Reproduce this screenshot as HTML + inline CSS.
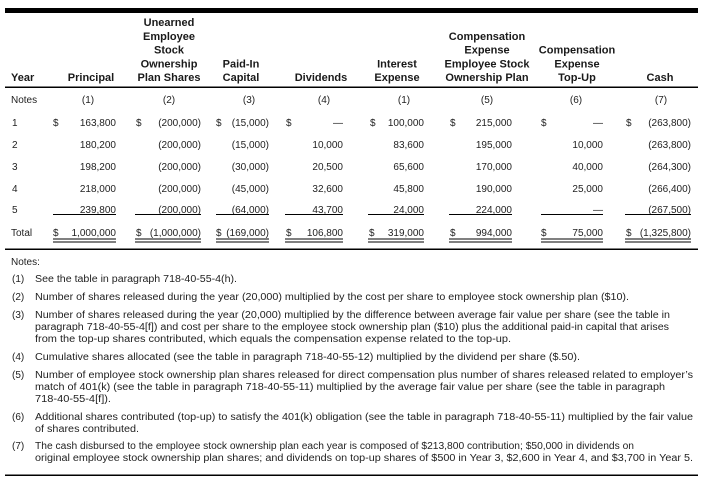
<!DOCTYPE html>
<html><head><meta charset="utf-8"><style>
html,body{margin:0;padding:0;background:#fff;}
svg{display:block;}
text{font-family:"Liberation Sans",Arial,sans-serif;fill:#222;}
.h{font-weight:bold;font-size:11px;fill:#1a1a1a;text-anchor:middle;}
.b{font-size:10px;}
.r{text-anchor:end;}
.m{text-anchor:middle;}
.n{font-size:10px;}
</style></head><body>
<svg width="701" height="491" viewBox="0 0 701 491" xmlns="http://www.w3.org/2000/svg">
<rect x="0" y="0" width="701" height="491" fill="#fff"/>
<rect x="5" y="8" width="693" height="5" fill="#000"/>
<!-- headers -->
<text class="h" x="11" y="81" style="text-anchor:start">Year</text>
<text class="h" x="91" y="81">Principal</text>
<text class="h" x="169" y="26">Unearned</text>
<text class="h" x="169" y="39.75">Employee</text>
<text class="h" x="169" y="53.5">Stock</text>
<text class="h" x="169" y="67.25">Ownership</text>
<text class="h" x="169" y="81">Plan Shares</text>
<text class="h" x="241" y="67.25">Paid-In</text>
<text class="h" x="241" y="81">Capital</text>
<text class="h" x="321" y="81">Dividends</text>
<text class="h" x="397" y="67.25">Interest</text>
<text class="h" x="397" y="81">Expense</text>
<text class="h" x="487" y="39.75">Compensation</text>
<text class="h" x="487" y="53.5">Expense</text>
<text class="h" x="487" y="67.25">Employee Stock</text>
<text class="h" x="487" y="81">Ownership Plan</text>
<text class="h" x="577" y="53.5">Compensation</text>
<text class="h" x="577" y="67.25">Expense</text>
<text class="h" x="577" y="81">Top-Up</text>
<text class="h" x="660" y="81">Cash</text>
<rect x="5" y="86.5" width="693" height="1.5" fill="#000"/>
<!-- notes row -->
<g class="b">
<text x="11" y="103">Notes</text>
<text class="m" x="88" y="103">(1)</text>
<text class="m" x="169" y="103">(2)</text>
<text class="m" x="249" y="103">(3)</text>
<text class="m" x="324" y="103">(4)</text>
<text class="m" x="404" y="103">(1)</text>
<text class="m" x="487" y="103">(5)</text>
<text class="m" x="576" y="103">(6)</text>
<text class="m" x="661" y="103">(7)</text>
</g>
<!-- rows -->
<g class="b">
<text x="12" y="126">1</text>
<text x="53" y="126">$</text><text class="r" x="116" y="126">163,800</text>
<text x="136" y="126">$</text><text class="r" x="201" y="126">(200,000)</text>
<text x="216" y="126">$</text><text class="r" x="269" y="126">(15,000)</text>
<text x="286" y="126">$</text><text class="r" x="343" y="126">—</text>
<text x="370" y="126">$</text><text class="r" x="424" y="126">100,000</text>
<text x="450" y="126">$</text><text class="r" x="512" y="126">215,000</text>
<text x="541" y="126">$</text><text class="r" x="603" y="126">—</text>
<text x="626" y="126">$</text><text class="r" x="691" y="126">(263,800)</text>

<text x="12" y="148">2</text>
<text class="r" x="116" y="148">180,200</text>
<text class="r" x="201" y="148">(200,000)</text>
<text class="r" x="269" y="148">(15,000)</text>
<text class="r" x="343" y="148">10,000</text>
<text class="r" x="424" y="148">83,600</text>
<text class="r" x="512" y="148">195,000</text>
<text class="r" x="603" y="148">10,000</text>
<text class="r" x="691" y="148">(263,800)</text>

<text x="12" y="170">3</text>
<text class="r" x="116" y="170">198,200</text>
<text class="r" x="201" y="170">(200,000)</text>
<text class="r" x="269" y="170">(30,000)</text>
<text class="r" x="343" y="170">20,500</text>
<text class="r" x="424" y="170">65,600</text>
<text class="r" x="512" y="170">170,000</text>
<text class="r" x="603" y="170">40,000</text>
<text class="r" x="691" y="170">(264,300)</text>

<text x="12" y="192">4</text>
<text class="r" x="116" y="192">218,000</text>
<text class="r" x="201" y="192">(200,000)</text>
<text class="r" x="269" y="192">(45,000)</text>
<text class="r" x="343" y="192">32,600</text>
<text class="r" x="424" y="192">45,800</text>
<text class="r" x="512" y="192">190,000</text>
<text class="r" x="603" y="192">25,000</text>
<text class="r" x="691" y="192">(266,400)</text>

<text x="12" y="213">5</text>
<text class="r" x="116" y="213">239,800</text>
<text class="r" x="201" y="213">(200,000)</text>
<text class="r" x="269" y="213">(64,000)</text>
<text class="r" x="343" y="213">43,700</text>
<text class="r" x="424" y="213">24,000</text>
<text class="r" x="512" y="213">224,000</text>
<text class="r" x="603" y="213">—</text>
<text class="r" x="691" y="213">(267,500)</text>

<text x="11" y="236">Total</text>
<text x="53" y="236">$</text><text class="r" x="116" y="236">1,000,000</text>
<text x="136" y="236">$</text><text class="r" x="201" y="236">(1,000,000)</text>
<text x="216" y="236">$</text><text class="r" x="269" y="236">(169,000)</text>
<text x="286" y="236">$</text><text class="r" x="343" y="236">106,800</text>
<text x="369" y="236">$</text><text class="r" x="424" y="236">319,000</text>
<text x="450" y="236">$</text><text class="r" x="512" y="236">994,000</text>
<text x="541" y="236">$</text><text class="r" x="603" y="236">75,000</text>
<text x="626" y="236">$</text><text class="r" x="691" y="236">(1,325,800)</text>
</g>
<!-- underlines -->
<g fill="#000">
<rect x="53" y="214" width="63" height="1"/>
<rect x="135" y="214" width="66" height="1"/>
<rect x="216" y="214" width="53" height="1"/>
<rect x="285" y="214" width="58" height="1"/>
<rect x="368" y="214" width="56" height="1"/>
<rect x="449" y="214" width="63" height="1"/>
<rect x="541" y="214" width="62" height="1"/>
<rect x="625" y="214" width="66" height="1"/>

<rect x="53" y="238.5" width="63" height="1"/><rect x="53" y="241.5" width="63" height="1"/>
<rect x="135" y="238.5" width="66" height="1"/><rect x="135" y="241.5" width="66" height="1"/>
<rect x="216" y="238.5" width="53" height="1"/><rect x="216" y="241.5" width="53" height="1"/>
<rect x="285" y="238.5" width="58" height="1"/><rect x="285" y="241.5" width="58" height="1"/>
<rect x="368" y="238.5" width="56" height="1"/><rect x="368" y="241.5" width="56" height="1"/>
<rect x="449" y="238.5" width="63" height="1"/><rect x="449" y="241.5" width="63" height="1"/>
<rect x="541" y="238.5" width="62" height="1"/><rect x="541" y="241.5" width="62" height="1"/>
<rect x="625" y="238.5" width="66" height="1"/><rect x="625" y="241.5" width="66" height="1"/>

<rect x="5" y="248.5" width="693" height="1.5"/>
<rect x="5" y="474.5" width="693" height="1.5"/>
</g>
<!-- notes -->
<g class="n">
<text x="11" y="265">Notes:</text>
<text x="12" y="282">(1)</text>
<text x="35" y="282" textLength="202" lengthAdjust="spacingAndGlyphs">See the table in paragraph 718-40-55-4(h).</text>
<text x="12" y="300">(2)</text>
<text x="35" y="300" textLength="594" lengthAdjust="spacingAndGlyphs">Number of shares released during the year (20,000) multiplied by the cost per share to employee stock ownership plan ($10).</text>
<text x="12" y="318">(3)</text>
<text x="35" y="318" textLength="635" lengthAdjust="spacingAndGlyphs">Number of shares released during the year (20,000) multiplied by the difference between average fair value per share (see the table in</text>
<text x="35" y="330" textLength="634" lengthAdjust="spacingAndGlyphs">paragraph 718-40-55-4[f]) and cost per share to the employee stock ownership plan ($10) plus the additional paid-in capital that arises</text>
<text x="35" y="342" textLength="476" lengthAdjust="spacingAndGlyphs">from the top-up shares contributed, which equals the compensation expense related to the top-up.</text>
<text x="12" y="360">(4)</text>
<text x="35" y="360" textLength="545" lengthAdjust="spacingAndGlyphs">Cumulative shares allocated (see the table in paragraph 718-40-55-12) multiplied by the dividend per share ($.50).</text>
<text x="12" y="378">(5)</text>
<text x="35" y="378" textLength="658" lengthAdjust="spacingAndGlyphs">Number of employee stock ownership plan shares released for direct compensation plus number of shares released related to employer’s</text>
<text x="35" y="390" textLength="630" lengthAdjust="spacingAndGlyphs">match of 401(k) (see the table in paragraph 718-40-55-11) multiplied by the average fair value per share (see the table in paragraph</text>
<text x="35" y="402" textLength="76" lengthAdjust="spacingAndGlyphs">718-40-55-4[f]).</text>
<text x="12" y="420">(6)</text>
<text x="35" y="420" textLength="658" lengthAdjust="spacingAndGlyphs">Additional shares contributed (top-up) to satisfy the 401(k) obligation (see the table in paragraph 718-40-55-11) multiplied by the fair value</text>
<text x="35" y="432" textLength="104" lengthAdjust="spacingAndGlyphs">of shares contributed.</text>
<text x="12" y="449">(7)</text>
<text x="35" y="449" textLength="599" lengthAdjust="spacingAndGlyphs">The cash disbursed to the employee stock ownership plan each year is composed of $213,800 contribution; $50,000 in dividends on</text>
<text x="35" y="461" textLength="658" lengthAdjust="spacingAndGlyphs">original employee stock ownership plan shares; and dividends on top-up shares of $500 in Year 3, $2,600 in Year 4, and $3,700 in Year 5.</text>
</g>
</svg>
</body></html>
